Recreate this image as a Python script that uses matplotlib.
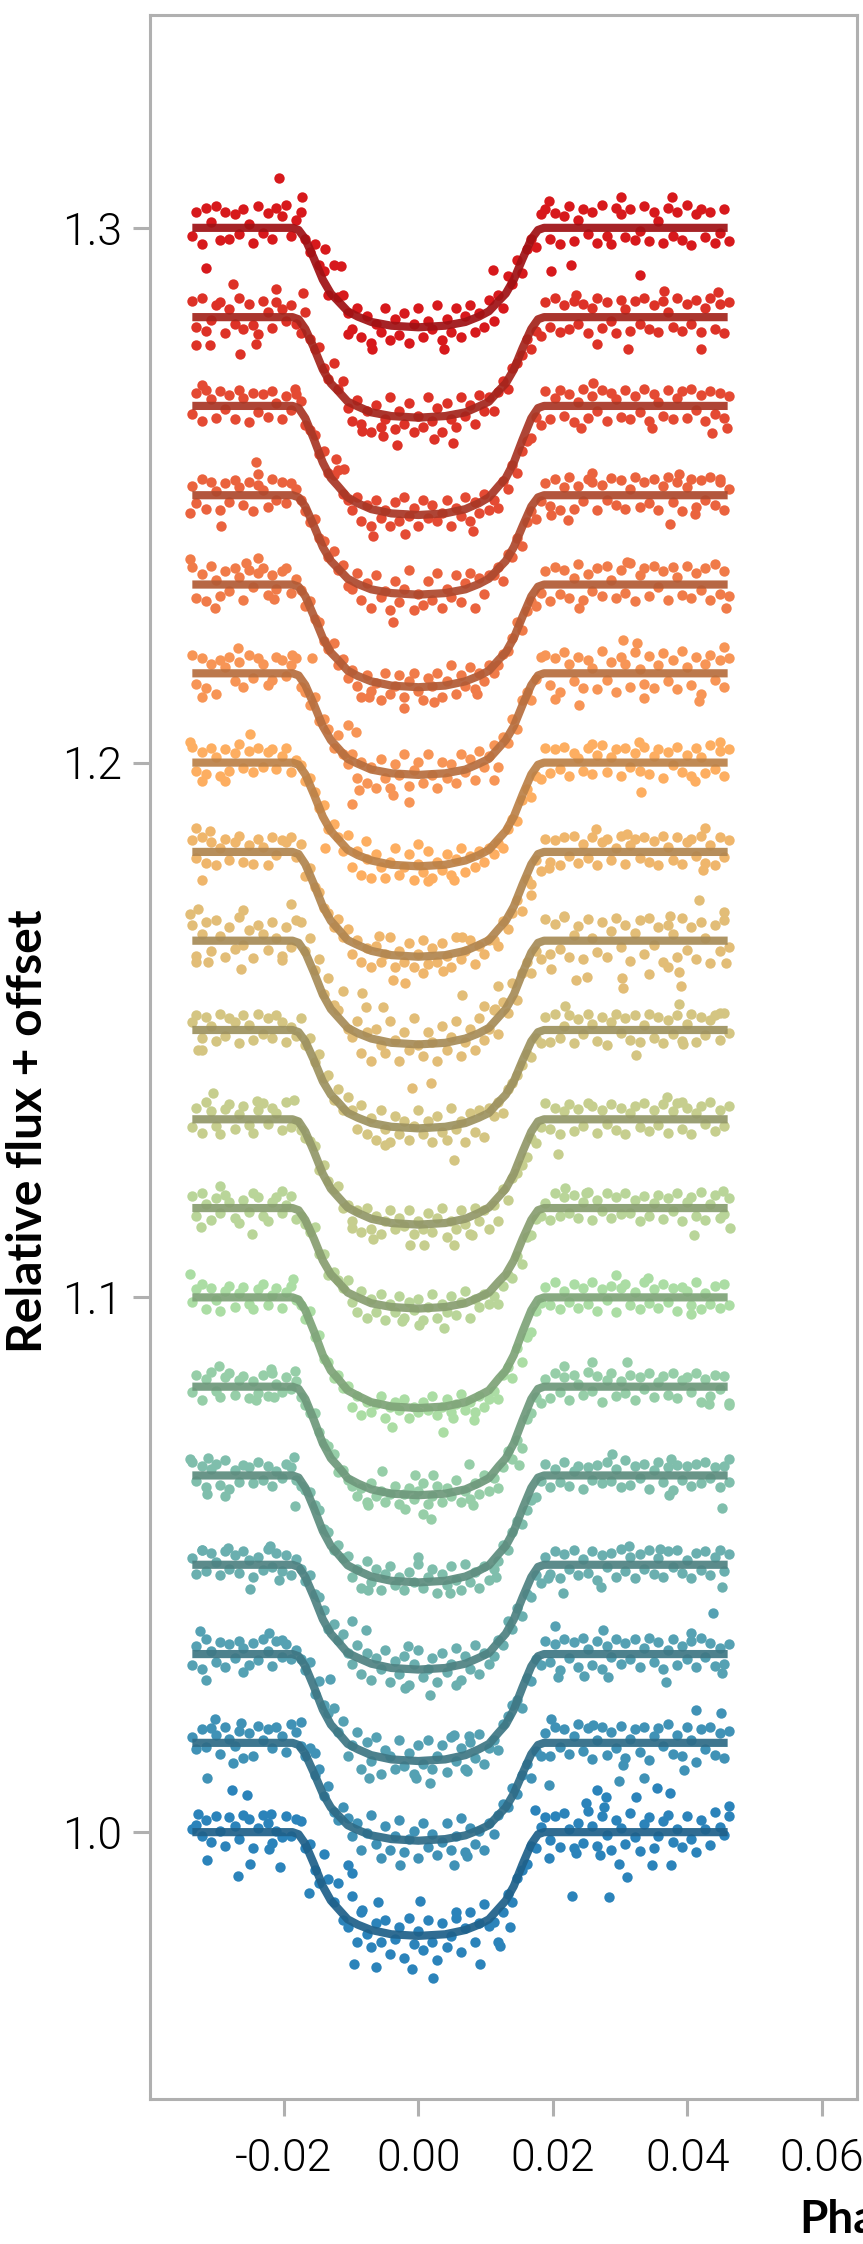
import numpy as np
import matplotlib
matplotlib.use("Agg")
import matplotlib.pyplot as plt
from matplotlib import font_manager as fm
from matplotlib.colors import LinearSegmentedColormap

# phase in units of 1e-4, flux deviations from each baseline in units of 1e-4
phase_segments = [
 [-336,-330,-322,-316,-308,-301,-295,-287,-281,-273,-266,-260,-252,-246,-238,-231,-224,-217,-211,-203,-196,-190,-182],
 [-175,-168,-161,-154,-147,-140,-134,-126,-119,-112,-105],
 [-98,-91,-85,-77,-70,-63,-56,-49,-42,-35,-28,-21,-14,-7,0,7,14,21,28,35,42,49,56,63,70,77,84,91,98,105],
 [112,119,126,133,140,147,154,161,168,175,182],
 [189,196,203,210,217,224,231,238,245,252,259,266,273,280,287,294,301,308,315,322,329,336,343,350,357,364,371,378,385,392,399,406,413,420,427,434,441,448,455,462],
]
baselines = [1.0,1.0167,1.0333,1.05,1.0667,1.0833,1.1,1.1167,1.1333,1.15,1.1667,1.1833,1.2,1.2167,1.2333,1.25,1.2667,1.2833,1.3]

flux_00 = [[5,14,-8,22,-18,30,3,-25,28,11,-12,33,25,-30,8,32,18,-20,2,-10,30,-8,25],
 [20,-30,-22,-70,-95,-40,-88,-130,-96,-165,-178],
 [-120,-205,-150,-190,-215,-170,-205,-165,-228,-200,-178,-235,-160,-210,-185,-220,-165,-205,-240,-170,-215,-195,-160,-225,-180,-150,-205,-170,-135,-175],
 [-168,-205,-150,-115,-130,-85,-70,-60,-25,-30,10],
 [28,-15,30,-28,35,5,-30,18,-20,40,12,-25,30,-5,-33,22,8,-22,35,-10,-35,15,28,-30,-8,20,33,-18,6,-27,30,-12,-38,22,5,-24,38,10,-5,30]]
flux_01 = [[10,-12,25,-8,28,15,-20,30,8,-5,22,-28,18,-25,32,5,25,-10,30,12,-18,35,20],
 [-5,-25,-10,-60,-48,-100,-80,-130,-145,-120,-140],
 [-175,-150,-200,-168,-135,-190,-215,-155,-200,-175,-145,-205,-180,-165,-215,-150,-195,-170,-210,-185,-150,-200,-175,-140,-205,-160,-190,-165,-200,-150],
 [-170,-135,-115,-120,-85,-95,-60,-40,-65,-15,-25],
 [18,-25,30,-8,25,-20,12,35,-15,28,-30,5,30,-22,20,-10,32,-28,8,25,-18,30,-32,12,28,-5,35,-20,15,-25,30,5,-35,25,-12,30,-22,18,-28,22]]
flux_02 = [[-20,15,-28,28,5,-15,22,-25,18,-8,25,12,-20,20,-12,28,5,-22,25,-5,18,-10,8],
 [-10,-30,-15,-75,-50,-95,-110,-100,-145,-125,-190],
 [-170,-145,-215,-165,-200,-155,-225,-180,-190,-215,-160,-210,-185,-225,-170,-205,-160,-215,-190,-170,-220,-155,-200,-175,-215,-165,-195,-150,-205,-175],
 [-160,-180,-130,-115,-95,-85,-100,-45,-50,-10,-20],
 [25,-15,18,-30,28,-8,22,-25,30,10,-20,25,-28,15,-5,28,-18,20,-10,28,-25,12,30,-15,22,-28,8,28,-20,15,-10,25,-25,30,-5,20,-22,12,-18,18]]
flux_03 = [[12,-18,28,-12,22,5,-20,25,-8,18,-15,25,8,-22,15,-10,30,-5,22,-12,18,-20,10],
 [-8,-30,-20,-55,-60,-85,-120,-110,-140,-130,-165],
 [-185,-150,-205,-165,-215,-175,-195,-160,-220,-180,-205,-170,-225,-185,-160,-210,-195,-175,-220,-165,-200,-185,-155,-215,-170,-195,-150,-205,-165,-185],
 [-170,-140,-150,-105,-120,-80,-95,-55,-60,-20,-35],
 [15,-18,25,-25,20,-8,28,-20,10,-15,25,-28,18,-5,22,-22,30,-12,15,-25,20,-8,28,-18,12,-22,25,-5,28,-15,8,-25,22,-10,25,-20,15,28,-12,20]]
flux_04 = [[25,-10,18,-22,12,22,-18,28,-25,10,-12,20,15,-15,25,-8,18,-20,8,-5,22,15,-8],
 [-20,-28,-30,-55,-65,-100,-105,-140,-130,-155,-150],
 [-190,-175,-210,-160,-200,-175,-215,-185,-170,-205,-190,-215,-180,-200,-165,-210,-190,-175,-220,-185,-205,-170,-195,-215,-165,-200,-180,-210,-170,-195],
 [-175,-160,-130,-140,-105,-85,-90,-65,-45,-40,-10],
 [22,-22,12,-12,25,-20,8,18,-25,15,-8,20,-15,25,-10,12,-22,28,-18,18,-5,22,-25,10,25,-12,15,-28,20,-8,18,-20,22,-15,25,-5,15,-22,18,-12]]
flux_05 = [[-10,22,-25,15,28,-8,-20,18,25,-15,12,20,-22,10,-12,22,-18,25,5,-10,18,-5,10],
 [-20,-35,-50,-50,-85,-105,-110,-125,-160,-155,-175],
 [-185,-205,-190,-215,-180,-205,-195,-215,-200,-185,-220,-200,-190,-210,-195,-180,-220,-205,-185,-215,-190,-205,-175,-215,-195,-210,-180,-200,-165,-195],
 [-170,-190,-150,-120,-135,-100,-115,-60,-50,-20,-30],
 [15,-22,25,-10,18,-25,22,5,-15,28,-8,20,-28,12,25,-18,10,-12,22,-25,18,-5,25,-20,8,20,-15,25,-22,12,18,-10,25,-28,15,-18,22,-5,20,-30]]
flux_06 = [[-8,15,25,-22,18,-5,-25,12,22,-18,8,20,-12,-22,15,25,-15,5,18,-20,10,22,-5],
 [-15,-40,-25,-75,-70,-115,-120,-150,-145,-170,-165],
 [-205,-185,-220,-195,-215,-200,-185,-225,-205,-195,-210,-190,-225,-205,-215,-195,-210,-185,-220,-205,-190,-215,-200,-180,-210,-195,-215,-185,-205,-190],
 [-175,-190,-145,-130,-150,-95,-120,-75,-65,-25,-10],
 [20,-15,28,-22,12,-8,25,-20,18,-12,28,-25,15,-5,22,-28,18,25,-15,10,-22,28,-10,15,-20,25,-8,18,-25,20,12,-15,28,-22,8,-12,22,-20,25,-15]]
flux_07 = [[22,-15,28,8,-22,18,-10,25,12,-18,-28,15,-8,28,20,-15,-25,12,20,-10,5,22,-20],
 [-15,-30,-45,-35,-85,-85,-125,-120,-135,-150,-135],
 [-175,-195,-155,-205,-170,-195,-160,-210,-180,-195,-165,-205,-175,-190,-170,-210,-185,-160,-205,-180,-195,-165,-200,-175,-155,-205,-170,-185,-160,-180],
 [-165,-180,-145,-125,-130,-90,-105,-55,-50,-20,-15],
 [10,-22,28,-15,20,-10,25,-18,12,30,-22,15,-5,28,-18,20,-12,28,-10,15,-25,22,-15,10,25,-20,18,-5,28,-25,12,20,-15,30,-22,8,25,-18,-12,18]]
flux_08 = [[-15,22,-25,32,15,-12,-28,20,28,-18,10,25,-10,-25,18,30,-8,22,12,-20,32,-15,-5],
 [-20,-35,-40,-50,-95,-85,-115,-130,-125,-165,-160],
 [-190,-170,-210,-165,-205,-180,-215,-190,-170,-205,-185,-200,-170,-215,-190,-205,-175,-210,-185,-165,-220,-190,-205,-170,-195,-215,-165,-190,-170,-205],
 [-160,-190,-130,-150,-110,-100,-85,-70,-35,-45,-15],
 [30,-18,22,-28,15,28,-22,20,-12,30,25,-25,18,-8,28,-20,22,-28,12,25,-15,30,-22,18,-10,28,-25,15,30,-18,22,-28,12,25,-8,32,-22,18,-12,25]]
flux_09 = [[15,28,-15,25,8,-20,30,-12,22,15,-25,28,10,-18,30,-8,22,-15,28,15,-22,5,-12],
 [22,-28,-15,-60,-45,-90,-85,-130,-110,-150,-125],
 [-150,-185,-140,-195,-165,-205,-150,-185,-210,-160,-195,-170,-205,-180,-150,-195,-170,-210,-160,-190,-205,-145,-185,-170,-210,-155,-190,-150,-200,-145],
 [-160,-135,-155,-110,-100,-85,-65,-45,-50,-15,-25],
 [25,-22,30,-15,8,28,-25,20,-8,30,12,-20,25,-28,15,30,-5,22,-18,28,-22,10,30,-15,25,-25,18,-8,28,-20,12,30,-22,25,-10,18,28,-18,32,-5]]
flux_10 = [[30,-28,12,35,-20,38,8,-30,25,-15,45,-8,20,-32,30,12,-18,35,5,-28,25,-12,38],
 [35,-20,5,-55,-35,-100,-70,-120,-130,-95,-165],
 [-180,-150,-210,-170,-225,-165,-195,-210,-150,-185,-225,-170,-205,-145,-195,-215,-170,-190,-225,-160,-205,-180,-150,-215,-190,-165,-205,-145,-185,-165],
 [-130,-175,-115,-135,-80,-110,-60,-40,-60,-20,-35],
 [40,-25,32,-15,45,-30,10,28,-35,40,5,-22,35,-30,18,42,-12,30,-38,15,38,-25,42,-8,25,-40,30,12,-30,42,-18,25,-35,35,5,-42,30,-20,38,-12]]
flux_11 = [[22,-12,28,-20,18,-25,8,25,-15,18,30,-18,12,-22,25,10,-25,28,-5,22,18,28,-10],
 [15,-45,-30,-65,-75,-105,-115,-140,-125,-160,-145],
 [-190,-165,-205,-180,-215,-175,-205,-190,-160,-215,-185,-205,-170,-215,-190,-165,-210,-180,-205,-170,-195,-215,-160,-200,-185,-165,-210,-175,-190,-165],
 [-165,-175,-130,-145,-115,-90,-110,-50,-60,-15,-35],
 [25,-18,22,-25,28,-8,30,-20,15,-12,28,-25,18,25,-15,8,30,-22,12,25,-12,28,-18,20,-25,30,10,-15,28,-22,18,25,-8,30,-20,12,-25,28,-10,22]]
flux_12 = [[30,-15,20,-22,28,10,-25,25,-15,18,35,-10,22,-18,28,-8,20,25,-12,12,28,-18,5],
 [-5,-35,-28,-55,-85,-80,-125,-115,-140,-165,-135],
 [-195,-165,-210,-180,-215,-170,-195,-215,-185,-160,-210,-195,-170,-220,-190,-205,-165,-215,-185,-200,-170,-210,-180,-160,-205,-175,-195,-165,-185,-160],
 [-170,-150,-160,-125,-105,-110,-70,-50,-65,-25,-30],
 [28,-20,25,-12,30,-25,18,8,-15,28,-22,15,32,-18,10,25,-25,28,-8,18,-15,30,-22,12,25,-28,20,-5,30,-18,15,-25,28,10,-20,32,-12,22,-25,25]]
flux_13 = [[35,-20,28,-28,18,-38,25,12,30,-15,22,-25,35,-8,28,18,-22,-12,30,25,-5,15,28],
 [-25,-35,-60,-45,-90,-85,-105,-140,-115,-150,-170],
 [-150,-195,-165,-205,-175,-215,-160,-195,-215,-170,-190,-150,-210,-180,-165,-205,-150,-190,-215,-165,-195,-170,-205,-150,-185,-160,-200,-145,-175,-155],
 [-135,-175,-120,-130,-85,-105,-50,-35,-50,-10,30],
 [35,-22,28,-35,40,18,-15,30,-28,25,10,-30,42,-12,22,-35,30,18,-25,40,8,-20,32,-28,15,38,-15,25,-30,42,12,-22,30,-38,18,35,-12,25,-25,28]]
flux_14 = [[32,-25,20,-30,35,8,-22,25,-12,30,15,-28,28,-5,22,30,-20,18,-8,25,30,-15,10],
 [-10,-40,-30,-65,-70,-105,-120,-110,-150,-140,-175],
 [-160,-190,-210,-170,-200,-185,-215,-165,-205,-190,-170,-210,-180,-165,-200,-215,-175,-190,-165,-210,-180,-150,-205,-170,-190,-155,-195,-165,-180,-150],
 [-165,-150,-130,-125,-100,-70,-85,-50,-30,-40,-15],
 [25,-30,32,-18,28,-25,12,38,-28,20,-12,30,-22,35,8,-25,28,-15,40,-30,18,30,-22,35,-5,25,-28,32,15,-20,35,-25,22,-10,30,-28,38,-18,25,-22]]
flux_15 = [[18,-15,30,-25,25,8,-28,22,-12,28,15,-18,25,-30,20,10,-22,30,-8,25,-15,22,12],
 [-8,-30,-50,-45,-80,-85,-115,-105,-140,-130,-170],
 [-175,-145,-195,-165,-210,-150,-190,-180,-215,-160,-200,-175,-140,-215,-185,-205,-160,-195,-145,-210,-175,-190,-150,-200,-165,-145,-210,-155,-185,-150],
 [-150,-135,-160,-110,-115,-80,-95,-50,-30,-45,-10],
 [22,-20,30,-28,15,35,-25,18,-10,30,25,-28,20,-8,32,-18,28,-25,12,35,-22,25,-15,30,-28,18,35,-12,25,-30,15,30,-22,28,-8,35,-18,25,-28,12]]
flux_16 = [[-15,25,-28,30,12,-22,28,-5,20,-25,30,15,-30,25,-12,22,-20,28,5,-25,18,-8,22],
 [10,-35,-45,-55,-90,-85,-125,-130,-120,-165,-175],
 [-195,-170,-215,-185,-225,-175,-210,-195,-225,-180,-215,-170,-205,-190,-225,-175,-210,-185,-215,-200,-175,-225,-190,-205,-170,-215,-180,-200,-165,-195],
 [-175,-190,-140,-155,-110,-125,-85,-65,-60,-20,-35],
 [28,-25,15,30,-18,22,-30,8,32,-22,18,-10,30,-28,25,12,-20,30,-25,18,-12,32,-28,22,8,-18,30,-25,15,28,-22,32,-8,20,-28,28,-15,25,-22,18]]
flux_17 = [[30,-18,35,-25,-5,22,28,-30,15,-12,35,-22,25,-15,-32,30,10,-20,28,15,-8,22,-12],
 [-30,10,-40,-60,-55,-95,-115,-85,-135,-120,-170],
 [-195,-155,-200,-175,-215,-165,-205,-190,-150,-210,-175,-200,-160,-215,-185,-205,-150,-195,-170,-215,-160,-190,-205,-150,-185,-165,-200,-145,-175,-150],
 [-175,-140,-120,-135,-95,-85,-70,-40,-60,-25,-35],
 [28,-18,35,-28,22,-22,30,-12,25,-30,18,35,-20,28,-8,-30,32,15,-25,30,-12,35,-22,22,-28,30,10,-18,35,-25,25,-12,32,-28,18,35,-22,25,-30,28]]
flux_18 = [[-15,30,-30,38,10,40,-22,30,-20,25,-12,35,8,-28,40,-10,28,-20,38,22,42,-15,15],
 [30,-20,-45,-30,-70,-80,-125,-70,-130,-125,-160],
 [-190,-150,-205,-165,-215,-180,-195,-150,-210,-170,-200,-160,-215,-180,-150,-205,-175,-190,-145,-210,-170,-195,-150,-205,-165,-145,-195,-160,-185,-135],
 [-175,-125,-150,-90,-105,-60,-85,-40,-20,-35,25],
 [35,-20,28,-30,22,40,-25,15,35,-12,30,-28,42,-15,-30,38,25,-18,35,-22,-5,40,-25,30,12,-28,38,-15,30,-22,42,-32,25,35,-18,30,-28,-10,35,-25]]

# isolated points read one by one
out_x_00 = [-277,-255,265,279,324,355,374,-314,-268,-222,-206,-251,229,284,310,348,376,298,194,234,270,462,174,249,276,-219,-327,-105,-98,22,-10,-95,-63,92,122,-83,-60,2,56,-163,137]
out_y_00 = [79,69,79,65,66,83,74,-52,-82,-32,-66,-60,-120,-122,-84,-62,-62,-59,-49,-39,-42,49,41,55,47,34,34,-62,-76,-272,-255,-246,-252,-246,-213,-145,-130,-128,-150,-113,-177]
out_x_01 = [-302,-263,-175,198,413,450,260,-314,-276,-154,305,298,336,395,194,53,-27,73]
out_y_01 = [44,37,39,45,62,56,33,-65,-37,-19,-42,-71,-65,-51,-78,-228,-228,-211]
out_x_02 = [-324,-222,-202,203,274,405,438,-316,-260,208,369,282,246,452,53,75,-74,17,72,-132,-4]
out_y_02 = [44,39,26,53,45,39,76,-49,-34,-42,-52,-42,-41,-35,-151,-153,-231,-242,-218,-47,-232]
out_x_03 = [-322,-283,-221,313,360,-251,-207,215,272,452,193,-15,-78,-99,17,-20,56]
out_y_03 = [28,32,35,36,30,-45,-29,-53,-41,-41,-25,-151,-122,-106,-243,-230,-224]
out_x_04 = [-312,-340,-185,288,376,462,-314,-288,373,452,-183,0,-75,47,116]
out_y_04 = [33,31,34,41,31,30,-34,-39,-36,-61,-57,-153,-215,-219,-189]
out_x_05 = [-296,-219,-184,259,310,216,-241,-215,462,433,-54,75,-5,22,150,19,7,-20,-75,82]
out_y_05 = [39,34,30,47,47,39,-25,-19,-34,-32,-158,-145,-166,-166,-146,-248,-239,-228,-221,-221]
out_x_06 = [-340,-186,294,342,405,-39,36,83,51]
out_y_06 = [44,34,42,37,-32,-243,-251,-230,-225]
out_x_07 = [-323,-247,-295,-202,218,249,410,464,453,38,1,-24]
out_y_07 = [-36,-49,41,32,37,29,-50,-37,32,-224,-218,-212]
out_x_08 = [-306,-240,-185,370,392,208,-67,-13,9,53,80,-99]
out_y_08 = [50,34,37,41,32,-65,-224,-235,-235,-235,-216,-203]
out_x_09 = [-327,-322,323,394,218,387,449,-50,53]
out_y_09 = [-37,-37,-46,-27,45,48,32,-215,-243]
out_x_10 = [-340,-327,-190,-260,417,454,217,374,-263,-330,-312,-202,234,251,303,305,343,372,388,391,457,198,-83,65,-52,97,-78,114,118,-10,19]
out_y_10 = [50,59,69,58,77,53,47,47,-53,-39,-39,-37,-73,-67,-69,-89,-62,-50,-59,-85,-42,-53,-98,-101,-124,-123,-124,-127,-84,-275,-266]
out_x_11 = [-331,-321,-309,264,310,426,168,194,424,7,36,-37,-20,-58,65]
out_y_11 = [44,-52,39,42,34,44,-81,-30,-33,-226,-223,-239,-245,-158,-160]
out_x_12 = [-251,-340,258,328,448,-321,-287,331,412,53,15,-139,-78,0]
out_y_12 = [53,39,34,39,39,-34,-34,-55,-34,-219,-222,-160,-147,-153]
out_x_13 = [-268,-188,-158,305,325,454,-321,239,203,418,336,-105,-93,-14,-99,-37,112,-88]
out_y_13 = [47,34,29,62,57,49,-44,-60,-48,-52,-47,-97,-109,-241,-245,-228,-200,-218]
out_x_14 = [-340,-239,-256,310,-302,457,239,-215,-21,24,88,-73]
out_y_14 = [47,50,40,42,-44,-44,-44,-27,-230,-219,-204,-210]
out_x_15 = [-241,-239,-340,-294,222,374,412,197,448,258,388,-37]
out_y_15 = [63,39,-34,-57,-47,-54,-35,-37,30,41,40,-237]
out_x_16 = [-321,-183,260,436,348,459,242,-122,-110,-68,81,-20]
out_y_16 = [40,32,43,-50,-42,-42,-42,-100,-118,-244,-234,-239]
out_x_17 = [-276,-212,-171,-265,-331,-309,-241,234,366,445,312,421,265,-83,-52,-32,24,51]
out_y_17 = [62,52,45,-69,-53,-53,-51,41,49,47,-60,-59,-50,-213,-223,-239,-228,-235]
out_x_18 = [-207,-173,-315,198,227,329,194,301,377,-138,-115,111,38,-69,-105]
out_y_18 = [93,57,-75,-80,-70,-88,50,57,57,-40,-71,-78,-226,-226,-199]

# fitted curves: depth below baseline, read at the phases in model_phase
model_phase = [187,178,168,155,142,130,120,105,90,70,40,0]
model_00 = [0,4,22,60,101,128,142,163,173,183,191,194]
model_01 = [0,4,21,57,95,121,134,154,163,173,180,183]
model_02 = [0,4,23,62,104,132,146,168,178,189,197,200]
model_03 = [0,4,23,61,102,129,143,165,174,185,193,196]
model_04 = [0,4,23,62,104,132,146,168,178,189,197,200]
model_05 = [0,4,23,63,106,134,148,171,181,192,200,203]
model_06 = [0,4,24,64,108,137,151,174,184,196,204,207]
model_07 = [0,4,22,58,98,124,137,158,167,178,185,188]
model_08 = [0,4,23,61,102,130,144,165,175,186,194,197]
model_09 = [0,4,21,57,96,121,134,155,164,174,181,184]
model_10 = [0,4,22,60,101,128,142,163,173,183,191,194]
model_11 = [0,4,23,61,102,129,143,165,174,185,193,196]
model_12 = [0,4,22,60,101,128,142,163,173,183,191,194]
model_13 = [0,4,22,59,99,125,139,160,169,180,187,190]
model_14 = [0,4,22,60,100,127,140,161,171,181,189,192]
model_15 = [0,4,21,58,97,123,136,156,166,176,183,186]
model_16 = [0,4,23,63,106,135,149,171,182,193,201,204]
model_17 = [0,4,22,58,98,124,137,158,167,178,185,188]
model_18 = [0,4,21,58,97,123,136,156,166,176,183,186]

xticks = [-0.02,0.0,0.02,0.04,0.06]
xticklabels = ["-0.02","0.00","0.02","0.04","0.06"]
yticks = [1.0,1.1,1.2,1.3]
yticklabels = ["1.0","1.1","1.2","1.3"]

fluxes = [flux_00,flux_01,flux_02,flux_03,flux_04,flux_05,flux_06,flux_07,flux_08,flux_09,flux_10,flux_11,flux_12,flux_13,flux_14,flux_15,flux_16,flux_17,flux_18]
out_xs = [out_x_00,out_x_01,out_x_02,out_x_03,out_x_04,out_x_05,out_x_06,out_x_07,out_x_08,out_x_09,out_x_10,out_x_11,out_x_12,out_x_13,out_x_14,out_x_15,out_x_16,out_x_17,out_x_18]
out_ys = [out_y_00,out_y_01,out_y_02,out_y_03,out_y_04,out_y_05,out_y_06,out_y_07,out_y_08,out_y_09,out_y_10,out_y_11,out_y_12,out_y_13,out_y_14,out_y_15,out_y_16,out_y_17,out_y_18]
models = [model_00,model_01,model_02,model_03,model_04,model_05,model_06,model_07,model_08,model_09,model_10,model_11,model_12,model_13,model_14,model_15,model_16,model_17,model_18]

W, H = 863, 2244
fig = plt.figure(figsize=(W/100, H/100), dpi=100)
ax = fig.add_axes([150/W, (H-2099)/H, (857-150)/W, (2099-15)/H])
cmap = LinearSegmentedColormap.from_list("s", ["#2b83ba","#abdda4","#fdae61","#d7191c"])

for i, base in enumerate(baselines):
    col = np.array(cmap(i/18))[:3]
    xs, ys = [], []
    for ps, fs in zip(phase_segments, fluxes[i]):
        n = min(len(ps), len(fs))
        xs += ps[:n]; ys += fs[:n]
    xs += out_xs[i]; ys += out_ys[i]
    ax.scatter(np.array(xs)*1e-4, base+np.array(ys)*1e-4, s=56, color=col, linewidths=0, zorder=2+i*0.01)
    m = models[i]
    mx = [-336]+[-p for p in model_phase]+model_phase[-2::-1]+[460]
    my = [0]+[-d for d in m]+[-d for d in m[-2::-1]]+[0]
    ax.plot(np.array(mx)*1e-4, base+np.array(my)*1e-4, color=col*0.74, alpha=0.93, lw=5.9,
            solid_capstyle="butt", solid_joinstyle="round", zorder=3+i*0.01)

ax.set_xlim((150-418.3)/6725, (857-418.3)/6725)
ax.set_ylim(0.9501, 1.3398)
ax.set_xticks(xticks); ax.set_xticklabels(xticklabels)
ax.set_yticks(yticks); ax.set_yticklabels(yticklabels)
for s in ax.spines.values():
    s.set_color("#b0b0b0"); s.set_linewidth(2.2)
ax.tick_params(axis="x", length=12.5, width=2.2, color="#b0b0b0", pad=15)
ax.tick_params(axis="y", length=12, width=2.2, color="#b0b0b0", pad=8)

def light_font():
    files = [f.fname for f in fm.fontManager.ttflist]
    for key in ("Roboto-Light.", "OpenSans-Light.", "Lato-Light."):
        for fn in files:
            if key in fn:
                return fm.FontProperties(fname=fn, size=32)
    return fm.FontProperties(family="Roboto", weight="light", size=32)

tick_font = light_font()
for t in ax.get_xticklabels()+ax.get_yticklabels():
    t.set_fontproperties(tick_font); t.set_color("black")
fig.text(28/W, (H-1131)/H, "Relative flux + offset", rotation=90, ha="center", va="center",
         family="Lato", weight="bold", fontsize=34.5, color="black")
fig.text(799/W, (H-2220)/H, "Phase", ha="left", va="center", family="Lato", weight="bold", fontsize=33, color="black")
fig.savefig("out.png", dpi=100)
